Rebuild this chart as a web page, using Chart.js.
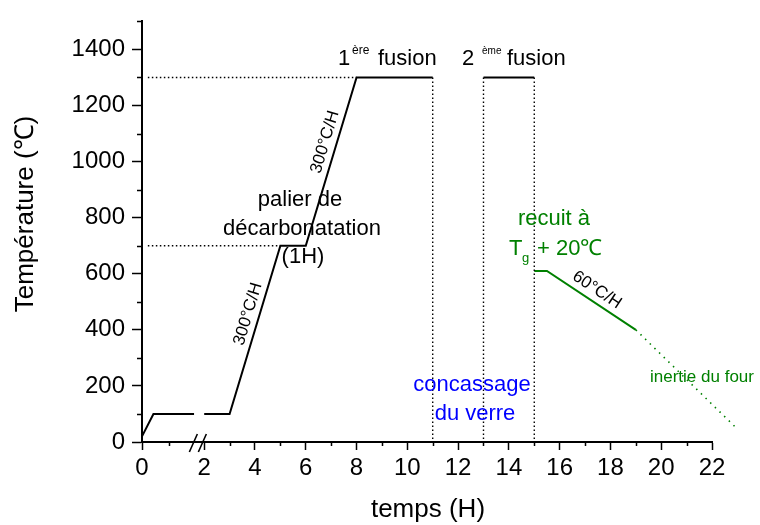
<!DOCTYPE html>
<html>
<head>
<meta charset="utf-8">
<script src="https://cdn.jsdelivr.net/npm/chart.js@4.4.0/dist/chart.umd.min.js"></script>
<style>
  html, body { margin: 0; padding: 0; background: #fff; }
</style>
</head>
<body>
<canvas id="chart" width="760" height="525"></canvas>
<script>
// heating profile, time in H / temperature in °C
// the time axis is broken between 0 and 2 : the "0" tick sits at -0.45 on the linear scale
const profileX = [-0.45, 0, 1.6, 1.6, 2, 3, 5, 6, 8, 11, 11, 13, 15];
const profileY = [20, 100, 100, null, 100, 100, 700, 700, 1300, 1300, null, 1300, 1300];

// annealing (recuit) then furnace inertia
const recuitX = [15, 15.5, 19];
const recuitY = [610, 610, 400];
const inertieX = [19, 22.9];
const inertieY = [400, 55];

// dotted guide lines
const fusionGuideX = [-0.22, 8];
const fusionGuideY = [1300, 1300];
const decarbGuideX = [-0.22, 5];
const decarbGuideY = [700, 700];
const stepGuideX = [11, 13, 15];
const stepGuideTop = 1300;

// axes
const xTickValues = [-0.45, 2, 4, 6, 8, 10, 12, 14, 16, 18, 20, 22];
const xTickLabels = ["0", "2", "4", "6", "8", "10", "12", "14", "16", "18", "20", "22"];
const xMinorTicks = [0.6, 3, 5, 7, 9, 11, 13, 15, 17, 19, 21];
const xBreakAt = 1.75;
const yTickValues = [0, 200, 400, 600, 800, 1000, 1200, 1400];
const yTickLabels = ["0", "200", "400", "600", "800", "1000", "1200", "1400"];
const yMinorTicks = [100, 300, 500, 700, 900, 1100, 1300, 1500];

const FONT = "'Liberation Sans', Arial, sans-serif";
const GREEN = "#008000";
const BLUE = "#0000ff";

const toPoints = (xs, ys) => xs.map((x, i) => ({ x: x, y: ys[i] }));

const verticalGuides = [];
stepGuideX.forEach((x) => {
  verticalGuides.push({ x: x, y: stepGuideTop }, { x: x, y: 0 }, { x: x, y: null });
});

const lineDefaults = {
  pointRadius: 0,
  tension: 0,
  spanGaps: false,
  clip: false,
  fill: false,
};

const decorPlugin = {
  id: "decor",
  afterDraw(chart) {
    const ctx = chart.ctx;
    const xs = chart.scales.x;
    const ys = chart.scales.y;
    const area = chart.chartArea;

    ctx.save();
    // minor ticks
    ctx.strokeStyle = "#000";
    ctx.lineWidth = 1.5;
    ctx.beginPath();
    xMinorTicks.forEach((v) => {
      const px = Math.round(xs.getPixelForValue(v)) + 0.5;
      ctx.moveTo(px, area.bottom);
      ctx.lineTo(px, area.bottom + 4);
    });
    yMinorTicks.forEach((v) => {
      const py = Math.round(ys.getPixelForValue(v)) + 0.5;
      ctx.moveTo(area.left, py);
      ctx.lineTo(area.left - 5, py);
    });
    ctx.stroke();

    // axis break marks
    const bx = xs.getPixelForValue(xBreakAt);
    const by = area.bottom;
    ctx.lineWidth = 1.6;
    ctx.beginPath();
    [-4.5, 4.5].forEach((d) => {
      ctx.moveTo(bx + d - 4, by + 10);
      ctx.lineTo(bx + d + 4, by - 8);
    });
    ctx.stroke();

    // axis titles
    ctx.fillStyle = "#000";
    ctx.font = "26px " + FONT;
    ctx.textAlign = "center";
    ctx.textBaseline = "alphabetic";
    ctx.fillText("temps (H)", 428, 517);
    ctx.save();
    ctx.translate(33, 214);
    ctx.rotate(-Math.PI / 2);
    ctx.font = "26px " + FONT;
    ctx.fillText("Température (℃)", 0, 0);
    ctx.restore();

    // plain labels
    const text = (str, x, y, size, color, align) => {
      ctx.font = size + "px " + FONT;
      ctx.fillStyle = color;
      ctx.textAlign = align || "center";
      ctx.textBaseline = "alphabetic";
      ctx.fillText(str, x, y);
    };

    text("1", 338, 65, 22, "#000", "left");
    text("ère", 352, 54, 12, "#000", "left");
    text("fusion", 378, 65, 22, "#000", "left");

    text("2", 462, 65, 22, "#000", "left");
    text("ème", 482, 54, 10, "#000", "left");
    text("fusion", 507, 65, 22, "#000", "left");

    text("palier de", 300, 206, 22, "#000");
    text("décarbonatation", 302, 235, 22, "#000");
    text("(1H)", 303, 263, 22, "#000");

    text("recuit à", 554, 225, 22, GREEN);
    text("T", 509, 255, 22, GREEN, "left");
    text("g", 522, 262, 13, GREEN, "left");
    text("+ 20℃", 537, 255, 22, GREEN, "left");

    text("concassage", 472, 391, 22, BLUE);
    text("du verre", 475, 420, 22, BLUE);

    text("inertie du four", 650, 382, 17, GREEN, "left");

    // rate labels, rotated along their segments
    const angleOf = (x0, y0, x1, y1) =>
      Math.atan2(ys.getPixelForValue(y1) - ys.getPixelForValue(y0),
                 xs.getPixelForValue(x1) - xs.getPixelForValue(x0));
    const rotated = (str, cx, cy, ang) => {
      ctx.save();
      ctx.translate(cx, cy);
      ctx.rotate(ang);
      ctx.font = "17px " + FONT;
      ctx.fillStyle = "#000";
      ctx.textAlign = "center";
      ctx.textBaseline = "middle";
      ctx.fillText(str, 0, 0);
      ctx.restore();
    };
    rotated("300°C/H", 248, 314, angleOf(3, 100, 5, 700));
    rotated("300°C/H", 325, 142, angleOf(6, 700, 8, 1300));
    rotated("60°C/H", 597, 290, angleOf(15.5, 610, 19, 400));

    ctx.restore();
  },
};

new Chart(document.getElementById("chart"), {
  type: "line",
  data: {
    datasets: [
      Object.assign({}, lineDefaults, {
        data: toPoints(fusionGuideX, fusionGuideY),
        borderColor: "#000",
        borderWidth: 1.4,
        borderDash: [1.5, 2.5],
      }),
      Object.assign({}, lineDefaults, {
        data: toPoints(decarbGuideX, decarbGuideY),
        borderColor: "#000",
        borderWidth: 1.4,
        borderDash: [1.5, 2.5],
      }),
      Object.assign({}, lineDefaults, {
        data: verticalGuides,
        borderColor: "#000",
        borderWidth: 1.4,
        borderDash: [1.5, 2.5],
      }),
      Object.assign({}, lineDefaults, {
        data: toPoints(profileX, profileY),
        borderColor: "#000",
        borderWidth: 2,
      }),
      Object.assign({}, lineDefaults, {
        data: toPoints(recuitX, recuitY),
        borderColor: GREEN,
        borderWidth: 2,
      }),
      Object.assign({}, lineDefaults, {
        data: toPoints(inertieX, inertieY),
        borderColor: GREEN,
        borderWidth: 1.6,
        borderDash: [1.5, 5],
      }),
    ],
  },
  options: {
    responsive: false,
    animation: false,
    layout: { padding: { left: 0, top: 16, right: 48, bottom: 0 } },
    plugins: {
      legend: { display: false },
      tooltip: { enabled: false },
    },
    scales: {
      x: {
        type: "linear",
        min: -0.45,
        max: 22,
        afterBuildTicks: (s) => {
          s.ticks = xTickValues.map((v) => ({ value: v }));
        },
        afterFit: (s) => {
          s.height = 83;
        },
        ticks: {
          callback: (v, i) => xTickLabels[i],
          autoSkip: false,
          maxRotation: 0,
          padding: 4,
          color: "#000",
          font: { size: 24, family: FONT },
        },
        grid: {
          drawOnChartArea: false,
          drawTicks: true,
          tickLength: 8,
          tickColor: "#000",
          tickWidth: 1.5,
        },
        border: { color: "#000", width: 2 },
      },
      y: {
        type: "linear",
        min: 0,
        max: 1500,
        afterBuildTicks: (s) => {
          s.ticks = yTickValues.map((v) => ({ value: v }));
        },
        afterFit: (s) => {
          s.width = 142;
        },
        ticks: {
          callback: (v, i) => yTickLabels[i],
          autoSkip: false,
          padding: 7,
          color: "#000",
          font: { size: 24, family: FONT },
        },
        grid: {
          drawOnChartArea: false,
          drawTicks: true,
          tickLength: 10,
          tickColor: "#000",
          tickWidth: 1.5,
        },
        border: { color: "#000", width: 2 },
      },
    },
  },
  plugins: [decorPlugin],
});
</script>
</body>
</html>
